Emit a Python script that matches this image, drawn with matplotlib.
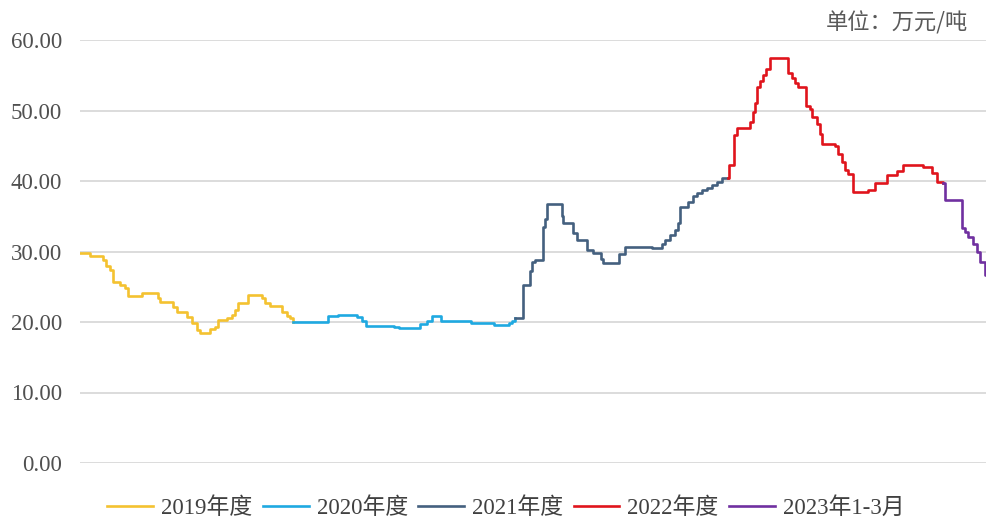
import matplotlib
matplotlib.use("Agg")
from matplotlib import pyplot as plt

# week index (from start of 2019 season) where the price changes, price in 万元/吨
w2019 = [0, 2.4, 5.6, 6.3, 7.3, 8.0, 9.8, 11.0, 11.7, 15.1, 19.0, 19.5, 22.7, 23.7,
         26.0, 27.3, 28.5, 29.3, 31.7, 32.9, 33.7, 35.9, 37.0, 37.8, 38.5, 41.0,
         44.4, 45.1, 46.3, 49.3, 50.5, 51.2, 52.0]
p2019 = [29.8, 29.3, 28.8, 28.0, 27.4, 25.7, 25.3, 24.8, 23.7, 24.1, 23.4, 22.8, 22.1, 21.4,
         20.7, 19.9, 18.9, 18.4, 19.0, 19.3, 20.3, 20.5, 21.0, 21.7, 22.7, 23.8,
         23.4, 22.7, 22.3, 21.4, 20.9, 20.5, 20.0]

w2020 = [52.0, 60.5, 63.0, 67.5, 68.8, 69.8, 76.5, 77.8, 83.0, 84.6, 85.9, 88.0,
         95.5, 101.0, 104.7, 105.5, 106.1]
p2020 = [20.0, 20.8, 21.0, 20.7, 20.2, 19.5, 19.3, 19.2, 19.7, 20.2, 20.8, 20.1,
         19.9, 19.6, 19.8, 20.1, 20.5]

w2021 = [106.1, 108.0, 109.8, 110.2, 111.0, 112.9, 113.4, 113.9, 117.6, 117.8, 120.2,
         121.2, 123.7, 125.1, 127.0, 127.6, 131.5, 132.9, 139.5, 141.9, 142.7, 143.9,
         145.1, 145.9, 146.3, 148.3, 149.5, 150.5, 151.7, 152.9, 154.1, 155.4, 156.6,
         158.0]
p2021 = [20.5, 25.3, 27.3, 28.5, 28.8, 33.5, 34.6, 36.8, 35.1, 34.0, 32.6,
         31.6, 30.2, 29.8, 29.0, 28.4, 29.6, 30.7, 30.5, 31.0, 31.6, 32.3,
         33.0, 34.0, 36.3, 37.0, 37.9, 38.3, 38.7, 39.0, 39.4, 39.9, 40.4,
         40.4]

w2022 = [158.0, 158.3, 159.5, 160.2, 163.4, 164.1, 164.6, 165.1, 165.9, 166.6, 167.3,
         168.3, 172.7, 173.7, 174.4, 175.1, 177.1, 178.0, 178.5, 179.8, 180.5, 181.0,
         184.1, 184.9, 185.9, 186.6, 187.3, 188.5, 192.2, 193.9, 196.8, 199.3, 200.7,
         205.6, 208.0, 209.0, 210.5]
p2022 = [40.4, 42.3, 46.5, 47.5, 48.4, 49.8, 51.1, 53.4, 54.2, 55.0, 55.9,
         57.4, 55.3, 54.6, 53.9, 53.4, 50.6, 50.2, 49.1, 48.1, 46.7, 45.3,
         44.9, 43.9, 42.7, 41.6, 41.0, 38.4, 38.7, 39.7, 40.9, 41.4, 42.3,
         42.0, 41.1, 39.9, 39.7]

w2023 = [210.5, 211.0, 215.1, 215.9, 216.6, 217.8, 218.8, 219.5, 220.7, 221.3]
p2023 = [39.7, 37.3, 33.4, 32.8, 32.0, 31.0, 30.0, 28.5, 26.7, 26.7]

labels = ["2019年度", "2020年度", "2021年度", "2022年度", "2023年1-3月"]
colors = ["#F4C230", "#1FA9E1", "#44607F", "#E0141C", "#7030A0"]

fig = plt.figure(figsize=(9.87, 5.22), dpi=100)
ax = fig.add_axes([80 / 987, 59 / 522, 1 - 80 / 987, 423 / 522])

series = [(w2019, p2019), (w2020, p2020), (w2021, p2021), (w2022, p2022), (w2023, p2023)]
for (w, p), lab, c in zip(series, labels, colors):
    ax.plot(w, p, drawstyle="steps-post", color=c, lw=1.9, label=lab, zorder=3)

ax.set_xlim(0, 221.3)
ax.set_ylim(0, 60)
ax.set_yticks(range(0, 61, 10))
ax.set_yticklabels([f"{v:.2f}" for v in range(0, 61, 10)],
                   fontfamily="Liberation Serif", fontsize=16.5, color="#505050")
ax.set_xticks([])
ax.tick_params(axis="y", length=0, pad=13)
ax.grid(axis="y", color="#D9D9D9", lw=1.3, zorder=0)
for s in ax.spines.values():
    s.set_visible(False)

fig.text(968 / 987, 1 - 23 / 522, "单位：万元/吨", ha="right", va="center",
         fontsize=16, color="#595959", fontfamily=["Noto Sans CJK SC", "DejaVu Sans"])

fig.legend(loc="center", bbox_to_anchor=(506 / 987, 14 / 522), ncol=5, frameon=False,
           prop={"family": ["Liberation Serif", "Noto Sans CJK SC"], "size": 16.5},
           handlelength=2.0, handletextpad=0.35, columnspacing=0.45, labelcolor="#404040")

fig.savefig("out.png", dpi=100)
